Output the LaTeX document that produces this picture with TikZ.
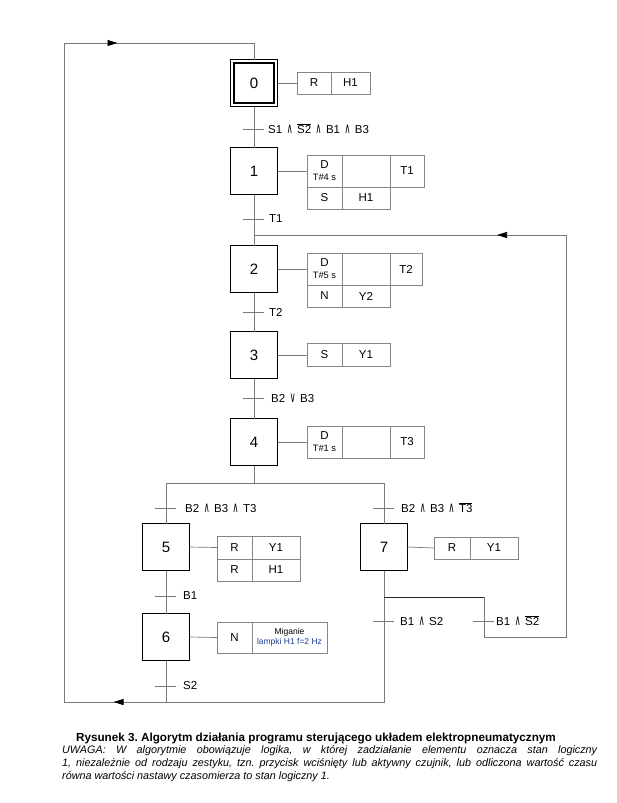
\documentclass[tikz,border=0pt]{standalone}
\usepackage{fontspec}
\setmainfont{Liberation Sans}
\newfontfamily\symfont{DejaVu Sans}
\usetikzlibrary{arrows.meta,decorations.markings}
\definecolor{ln}{gray}{0.48}
\definecolor{tb}{gray}{0.52}
\definecolor{bluetxt}{RGB}{30,60,150}
\newcommand{\AND}{\hspace{4.5pt}{\symfont\fontsize{10}{12}\selectfont\scalebox{0.8}[1.45]{∧}}\hspace{4.5pt}}
\newcommand{\OR}{\hspace{4.5pt}{\symfont\fontsize{10}{12}\selectfont\scalebox{0.8}[1.45]{∨}}\hspace{4.5pt}}
\begin{document}
\frenchspacing
\begin{tikzpicture}[x=1pt,y=-1pt,
  stepbox/.style={draw=black, line width=1.1pt, minimum width=47pt, minimum height=47pt, inner sep=0pt, outer sep=0pt, font=\fontsize{15}{17}\selectfont},
  cell/.style={draw=tb, line width=0.6pt, inner sep=0pt, outer sep=0pt, align=center, font=\fontsize{11.5}{13}\selectfont},
  flow/.style={draw=ln, line width=0.7pt},
  lbl/.style={anchor=west, inner sep=0pt, font=\fontsize{11.5}{13}\selectfont},
  tick/.style={draw=ln, line width=0.7pt},
]
\useasboundingbox (0,0) rectangle (616,803);

% ---------- steps ----------
\node[stepbox] (s0) at (254,83) {};
\node[draw=black, line width=1.1pt, minimum size=40pt, inner sep=0pt, font=\fontsize{15}{17}\selectfont] (s0i) at (254,83) {0};
\node[stepbox] (s1) at (254,171) {1};
\node[stepbox] (s2) at (254,269) {2};
\node[stepbox] (s3) at (254,355) {3};
\node[stepbox] (s4) at (254,442) {4};
\node[stepbox] (s5) at (166,547) {5};
\node[stepbox] (s7) at (384,547) {7};
\node[stepbox] (s6) at (166,637) {6};

% ---------- actions ----------
% step 0
\node[cell, minimum width=34pt, minimum height=22pt] (a0a) at (314,83) {R};
\node[cell, minimum width=39pt, minimum height=22pt] (a0b) at (350.5,83) {H1};
\draw[flow] (s0.east) -- (a0a.west);
% step 1
\node[cell, minimum width=35pt, minimum height=32pt] (a1a) at (324.5,171) {D\\[-1pt]{\fontsize{9.3}{10}\selectfont T\#4 s}};
\node[cell, minimum width=48pt, minimum height=32pt] (a1b) at (366,171) {};
\node[cell, minimum width=34pt, minimum height=32pt] (a1c) at (407,171) {T1};
\node[cell, minimum width=35pt, minimum height=22pt] (a1d) at (324.5,198) {S};
\node[cell, minimum width=48pt, minimum height=22pt] (a1e) at (366,198) {H1};
\draw[flow] (s1.east) -- (a1a.west);
% step 2
\node[cell, minimum width=35pt, minimum height=32pt] (a2a) at (324.5,269) {D\\[-1pt]{\fontsize{9.3}{10}\selectfont T\#5 s}};
\node[cell, minimum width=48pt, minimum height=32pt] (a2b) at (366,269) {};
\node[cell, minimum width=32pt, minimum height=32pt] (a2c) at (406,269) {T2};
\node[cell, minimum width=35pt, minimum height=22pt] (a2d) at (324.5,296) {N};
\node[cell, minimum width=48pt, minimum height=22pt] (a2e) at (366,296) {Y2};
\draw[flow] (s2.east) -- (a2a.west);
% step 3
\node[cell, minimum width=35pt, minimum height=23pt] (a3a) at (324.5,355) {S};
\node[cell, minimum width=48pt, minimum height=23pt] (a3b) at (366,355) {Y1};
\draw[flow] (s3.east) -- (a3a.west);
% step 4
\node[cell, minimum width=35pt, minimum height=32pt] (a4a) at (324.5,442) {D\\[-1pt]{\fontsize{9.3}{10}\selectfont T\#1 s}};
\node[cell, minimum width=48pt, minimum height=32pt] (a4b) at (366,442) {};
\node[cell, minimum width=34pt, minimum height=32pt] (a4c) at (407,442) {T3};
\draw[flow] (s4.east) -- (a4a.west);
% step 5
\node[cell, minimum width=35pt, minimum height=23pt] (a5a) at (234.5,547.5) {R};
\node[cell, minimum width=48pt, minimum height=23pt] (a5b) at (276,547.5) {Y1};
\node[cell, minimum width=35pt, minimum height=22pt] (a5c) at (234.5,570) {R};
\node[cell, minimum width=48pt, minimum height=22pt] (a5d) at (276,570) {H1};
\draw[flow] (s5.east) -- (a5a.west);
% step 7
\node[cell, minimum width=36pt, minimum height=22pt] (a7a) at (452,548) {R};
\node[cell, minimum width=48pt, minimum height=22pt] (a7b) at (494,548) {Y1};
\draw[flow] (s7.east) -- (a7a.west);
% step 6
\node[cell, minimum width=35pt, minimum height=31pt] (a6a) at (234.5,637.5) {N};
\node[cell, minimum width=75pt, minimum height=31pt, font=\fontsize{8.5}{9.5}\selectfont] (a6b) at (289.5,637.5) {Miganie\\\textcolor{bluetxt}{lampki H1 f=2 Hz}};
\draw[flow] (s6.east) -- (a6a.west);

% ---------- main flow ----------
\draw[flow] (s0.south) -- (s1.north);
\draw[flow] (s1.south) -- (s2.north);
\draw[flow] (s2.south) -- (s3.north);
\draw[flow] (s3.south) -- (s4.north);
\coordinate (j4) at (254,483);
\coordinate (jL) at (166,483);
\coordinate (jR) at (384,483);
\draw[flow] (s4.south) -- (j4);
\draw[flow] (s5.north) -- (jL) -- (jR) -- (s7.north);
\draw[flow] (s5.south) -- (s6.north);
\coordinate (b6) at (166,702);
\draw[flow] (s6.south) -- (b6);

% return loop to step 0
\coordinate (b7) at (384,702);
\coordinate (bL) at (64,702);
\coordinate (tL) at (64,43);
\coordinate (t0) at (254,43);
\draw[flow, postaction={decorate}, decoration={markings,
   mark=at position 402pt with {\arrow[black]{Triangle[length=10pt,width=6pt]}},
   mark=at position 1164pt with {\arrow[black]{Triangle[length=10pt,width=6pt]}}}]
  (s7.south) -- (b7) -- (bL) -- (tL) -- (t0) -- (s0.north);

% return loop to step 2
\coordinate (k7) at (384,597);
\coordinate (k7r) at (484,597);
\coordinate (k7d) at (484,637);
\coordinate (kR) at (566,637);
\coordinate (kRt) at (566,235);
\coordinate (k2) at (254,235);
\draw[draw=black!85, line width=0.7pt] (k7) -- (k7r);
\draw[flow, postaction={decorate}, decoration={markings,
   mark=at position 593pt with {\arrow[black]{Triangle[length=10pt,width=6pt]}}}]
  (k7r) -- (k7d) -- (kR) -- (kRt) -- (k2);

% ---------- transitions ----------
\coordinate (t01) at (254,129);
\draw[tick] ([xshift=-11pt]t01) -- ([xshift=10pt]t01);
\node[lbl] (l01) at (268,129) {S1\AND$\overline{\mbox{S2}}$\AND B1\AND B3};
\coordinate (t12) at (254,219);
\draw[tick] ([xshift=-11pt]t12) -- ([xshift=10pt]t12);
\node[lbl] (l12) at (269,219) {T1};
\coordinate (t23) at (254,312);
\draw[tick] ([xshift=-11pt]t23) -- ([xshift=10pt]t23);
\node[lbl] (l23) at (269,312) {T2};
\coordinate (t34) at (254,398);
\draw[tick] ([xshift=-11pt]t34) -- ([xshift=10pt]t34);
\node[lbl] (l34) at (271,398) {B2\OR B3};
\coordinate (t45) at (166,508);
\draw[tick] ([xshift=-11pt]t45) -- ([xshift=10pt]t45);
\node[lbl] (l45) at (185,508) {B2\AND B3\AND T3};
\coordinate (t47) at (384,508);
\draw[tick] ([xshift=-11pt]t47) -- ([xshift=10pt]t47);
\node[lbl] (l47) at (401,508) {B2\AND B3\AND$\overline{\mbox{T3}}$};
\coordinate (t56) at (166,596);
\draw[tick] ([xshift=-11pt]t56) -- ([xshift=10pt]t56);
\node[lbl] (l56) at (183,596) {B1};
\coordinate (t60) at (166,686);
\draw[tick] ([xshift=-11pt]t60) -- ([xshift=10pt]t60);
\node[lbl] (l60) at (183,686) {S2};
\coordinate (t70) at (384,621);
\draw[tick] ([xshift=-11pt]t70) -- ([xshift=10pt]t70);
\node[lbl] (l70) at (400,621) {B1\AND S2};
\coordinate (t72) at (484,621);
\draw[tick] ([xshift=-11pt]t72) -- ([xshift=10pt]t72);
\node[lbl] (l72) at (496,621) {B1\AND$\overline{\mbox{S2}}$};

% ---------- caption ----------
\node[anchor=base, inner sep=0pt, font=\bfseries\fontsize{11.7}{13}\selectfont] (cap) at (316,741)
  {Rysunek 3. Algorytm działania programu sterującego układem elektropneumatycznym};
\node[anchor=north west, inner sep=0pt, text width=535pt, align=justify, font=\itshape\fontsize{10.8}{13}\selectfont] (uw) at (62,745)
  {UWAGA: W algorytmie obowiązuje logika, w której zadziałanie elementu oznacza stan logiczny\linebreak
   1, niezależnie od rodzaju zestyku, tzn. przycisk wciśnięty lub aktywny czujnik, lub odliczona wartość czasu\linebreak
   równa wartości nastawy czasomierza to stan logiczny 1.};
\end{tikzpicture}
\end{document}
